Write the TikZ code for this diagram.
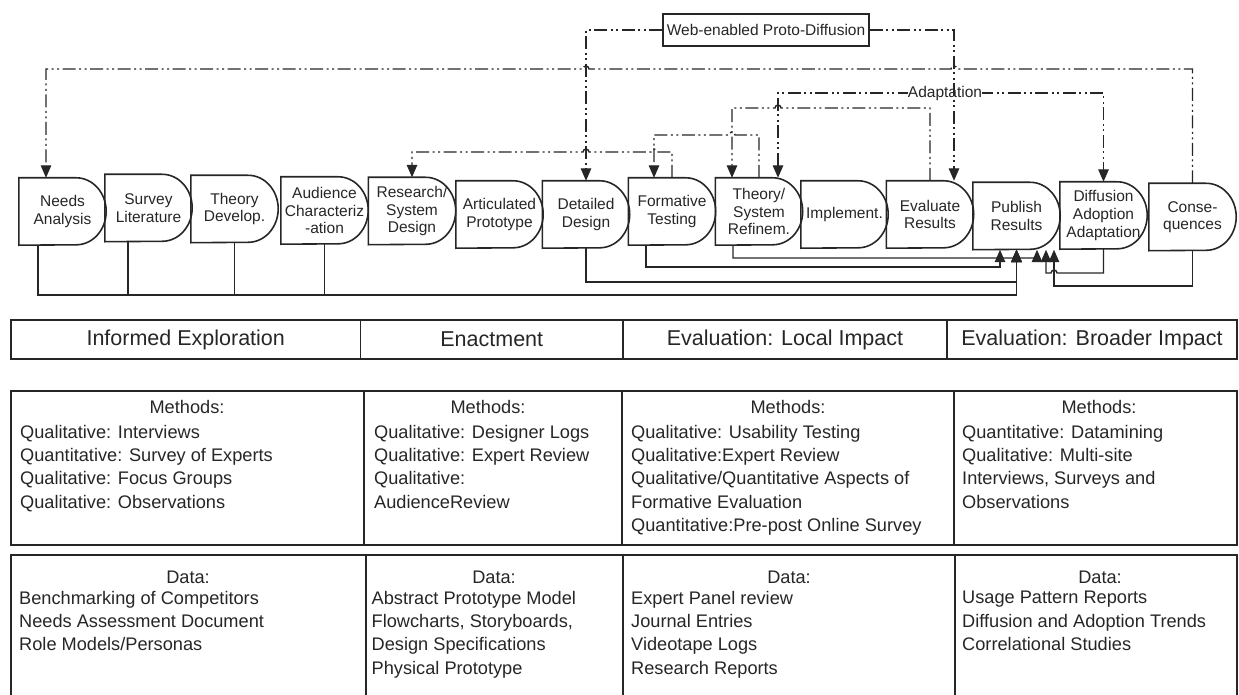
\documentclass[tikz,border=0pt]{standalone}
\usepackage{fontspec}
\setmainfont{Liberation Sans}
\usetikzlibrary{arrows.meta}

\begin{document}
\begin{tikzpicture}[x=1pt,y=1pt,color=black!85,
    stagebox/.style={minimum width=87pt,minimum height=67pt,inner sep=0pt,align=center,
      font=\fontsize{15.5}{17.6}\selectfont},
    ddline/.style={line width=1.4pt,dash pattern=on 13pt off 3.5pt on 2pt off 3.5pt on 2pt off 3.5pt},
    fbline/.style={line width=1.4pt},
    headtip/.style={-{Triangle[width=10.5pt,length=12.5pt]}},
    phasecell/.style={draw,line width=1.5pt,minimum height=39pt,inner sep=0pt,
      font=\fontsize{21.5}{24}\selectfont},
    cellhead/.style={inner sep=0pt,font=\fontsize{18.2}{23.3}\selectfont},
    celltext/.style={anchor=north west,align=left,inner sep=0pt,font=\fontsize{18.2}{23.3}\selectfont}]
\useasboundingbox (0,0) rectangle (1239,-695);

% process stages
\node[stagebox] (needs) at (62.5,-211.5) {Needs\\Analysis};
\node[stagebox] (surv) at (148.5,-208) {Survey\\Literature};
\node[stagebox] (theo) at (234.5,-209) {Theory\\Develop.};
\node[stagebox] (aud) at (324.5,-210.5) {Audience\\Characteriz\\-ation};
\node[stagebox] (res) at (412,-211) {Research/\\System\\Design};
\node[stagebox] (art) at (499.5,-214.5) {Articulated\\Prototype};
\node[stagebox] (det) at (586,-214.5) {Detailed\\Design};
\node[stagebox] (form) at (672,-211.5) {Formative\\Testing};
\node[stagebox] (tsr) at (759,-211.5) {Theory/\\System\\Refinem.};
\node[stagebox] (impl) at (844.5,-214.5) {Implement.};
\node[stagebox] (eval) at (930,-214.5) {Evaluate\\Results};
\node[stagebox] (pub) at (1016.5,-216) {Publish\\Results};
\node[stagebox] (diff) at (1103.5,-215.5) {Diffusion\\Adoption\\Adaptation};
\node[stagebox] (cons) at (1192.5,-217) {Conse-\\quences};

\foreach \s in {needs,surv,theo,aud,res,art,det,form,tsr,impl,eval,pub,diff,cons}
  \draw[line width=1.6pt] (\s.north west) -- ([xshift=-30pt]\s.north east)
    arc[start angle=90,end angle=-90,x radius=30pt,y radius=33.5pt] -- (\s.south west) -- cycle;

% dash-dot loops on top
\draw[ddline,headtip] (cons.north) |- (957,-69) arc[start angle=0,end angle=180,radius=3pt]
  -- (589,-69) arc[start angle=0,end angle=180,radius=3pt] -- (46,-69) -- ([xshift=-16.5pt]needs.north);
\draw[ddline,headtip] (eval.north) |- (781,-108) arc[start angle=0,end angle=180,radius=3pt]
  -- (732,-108) -- ([xshift=-27pt]tsr.north);
\draw[ddline,headtip] (tsr.north) |- (735,-135) arc[start angle=0,end angle=180,radius=3pt]
  -- (654,-135) -- ([xshift=-18pt]form.north);
\draw[ddline,headtip] (form.north) |- (657,-152) arc[start angle=0,end angle=180,radius=3pt]
  -- (589,-152) arc[start angle=0,end angle=180,radius=3pt] -- (412,-152) -- (res.north);
\draw[ddline,{Triangle[width=10.5pt,length=12.5pt]}-{Triangle[width=10.5pt,length=12.5pt]}]
  ([xshift=19pt]tsr.north) |- (945,-93) -| (diff.north);
\node[fill=white,inner xsep=0pt,inner ysep=1pt,font=\fontsize{15.5}{17}\selectfont] (adapt) at (945,-93) {Adaptation};

\node[draw,line width=1.3pt,minimum width=206pt,minimum height=32pt,inner sep=0pt,
  font=\fontsize{15.5}{17}\selectfont] (web) at (766,-30) {Web-enabled Proto-Diffusion};
\draw[ddline,headtip] (web.west) -| (det.north);
\draw[ddline,headtip] (web.east) -| ([xshift=24pt]eval.north);

% solid feedback into Publish Results
\draw[fbline,headtip] ([xshift=-24.5pt]needs.south) |- (1016.5,-295) -- (pub.south);
\draw[fbline,headtip] ([xshift=-20.5pt]surv.south) |- (1016.5,-295) -- (pub.south);
\draw[fbline,headtip] (theo.south) |- (1016.5,-295) -- (pub.south);
\draw[fbline,headtip] (aud.south) |- (1016.5,-295) -- (pub.south);
\draw[fbline,headtip] (det.south) |- (1016.5,-282) -- (pub.south);
\draw[fbline,headtip] ([xshift=-26pt]form.south) |- (1000,-267) -- ([xshift=-16.5pt]pub.south);
\draw[fbline,headtip] ([xshift=-26pt]tsr.south) |- (1013.5,-258) arc[start angle=180,end angle=0,radius=3pt]
  -- (1037,-258) -- ([xshift=20.5pt]pub.south);
\draw[fbline,headtip] (diff.south) |- (1057,-273) arc[start angle=0,end angle=180,radius=3pt]
  -- (1046,-273) -- ([xshift=29.5pt]pub.south);
\draw[fbline,headtip] (cons.south) |- (1054,-286) -- ([xshift=37.5pt]pub.south);

% phases
\node[phasecell,minimum width=349.5pt] (ph1) at (185.75,-339.5) {Informed Exploration};
\node[phasecell,minimum width=262.5pt] (ph2) at (491.75,-339.5) {Enactment};
\node[phasecell,minimum width=324pt] (ph3) at (785,-339.5) {Evaluation: Local Impact};
\node[phasecell,minimum width=290pt] (ph4) at (1092,-339.5) {Evaluation: Broader Impact};

% methods row
\draw[line width=1.5pt] (11,-391) rectangle (1237,-545);
\draw[line width=1.5pt] (364,-391) -- (364,-545) (622,-391) -- (622,-545) (954,-391) -- (954,-545);
\node[cellhead] (mh1) at (187,-407) {Methods:};
\node[cellhead] (mh2) at (488,-407) {Methods:};
\node[cellhead] (mh3) at (788,-407) {Methods:};
\node[cellhead] (mh4) at (1099,-407) {Methods:};
\node[celltext] (m1) at (20,-425) {Qualitative: Interviews\\Quantitative: Survey of Experts\\Qualitative: Focus Groups\\Qualitative: Observations};
\node[celltext] (m2) at (374,-425) {Qualitative: Designer Logs\\Qualitative: Expert Review\\Qualitative:\\AudienceReview};
\node[celltext] (m3) at (631,-425) {Qualitative: Usability Testing\\Qualitative:Expert Review\\Qualitative/Quantitative Aspects of\\Formative Evaluation\\Quantitative:Pre-post Online Survey};
\node[celltext] (m4) at (962,-425) {Quantitative: Datamining\\Qualitative: Multi-site\\Interviews, Surveys and\\Observations};

% data row
\draw[line width=1.5pt] (11,-698) |- (1237,-555) -- (1237,-698);
\draw[line width=1.5pt] (366,-555) -- (366,-698) (623,-555) -- (623,-698) (955,-555) -- (955,-698);
\node[cellhead] (dh1) at (188,-577) {Data:};
\node[cellhead] (dh2) at (494,-577) {Data:};
\node[cellhead] (dh3) at (789,-577) {Data:};
\node[cellhead] (dh4) at (1100,-577) {Data:};
\node[celltext] (d1) at (19,-591) {Benchmarking of Competitors\\Needs Assessment Document\\Role Models/Personas};
\node[celltext] (d2) at (371.5,-591) {Abstract Prototype Model\\Flowcharts, Storyboards,\\Design Specifications\\Physical Prototype};
\node[celltext] (d3) at (631,-591) {Expert Panel review\\Journal Entries\\Videotape Logs\\Research Reports};
\node[celltext] (d4) at (962,-591) {Usage Pattern Reports\\Diffusion and Adoption Trends\\Correlational Studies};
\end{tikzpicture}
\end{document}
